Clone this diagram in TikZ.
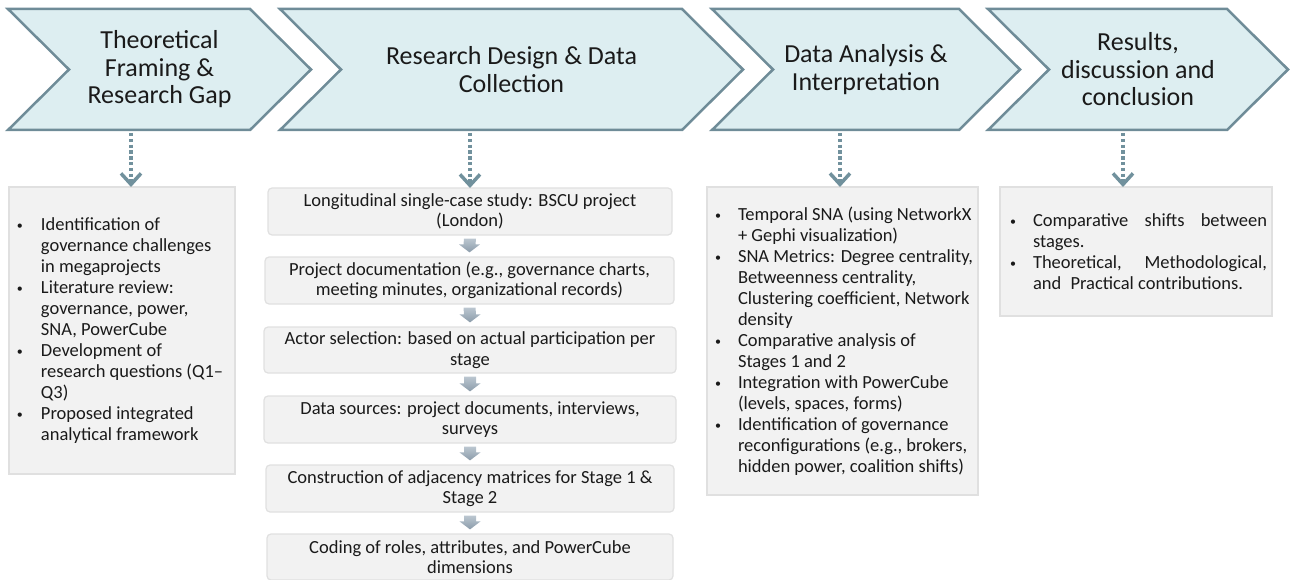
\documentclass[tikz,border=0pt]{standalone}
\usepackage{fontspec}
\setmainfont{Carlito}
\usetikzlibrary{arrows.meta,calc}

\definecolor{chevFill}{HTML}{DDEEF1}
\definecolor{chevLine}{HTML}{6F8C98}
\definecolor{connCol}{HTML}{71919D}
\definecolor{boxFill}{HTML}{F2F2F2}
\definecolor{boxLine}{HTML}{E0E0E0}
\definecolor{arrTop}{HTML}{BBC6D0}
\definecolor{arrBot}{HTML}{8B9CAA}
\definecolor{ink}{HTML}{1A1A1A}

% chevron outline built on an invisible bounding node
\newcommand\chevronpath[1]{%
  \draw[chev] (#1.north west) -- ($(#1.north east)+(-61,0)$) -- (#1.east)
    -- ($(#1.south east)+(-61,0)$) -- (#1.south west) -- ($(#1.west)+(61,0)$) -- cycle;}

% shaded block arrow between two stacked boxes
\newcommand\colarrow[2]{%
  \shade[top color=arrTop,bottom color=arrBot]
    ($(#1.south)+(-6,3)$) -- ($(#1.south)+(6,3)$) -- ($(#2.north)+(6,-12)$)
    -- ($(#2.north)+(10.5,-12)$) -- ($(#2.north)+(0,-4)$) -- ($(#2.north)+(-10.5,-12)$)
    -- ($(#2.north)+(-6,-12)$) -- cycle;}

% bullet-list lines of fixed width
\newcommand\linew{226pt}
\newcommand\bpad{8pt}
\newcommand\bind{24pt}
\newcommand\smallbullet{\raisebox{1.2pt}{\fontsize{12}{12}\selectfont\textbullet}}
\newcommand\bl[1]{\hbox to \linew{\hspace*{\bpad}\hbox to \bind{\smallbullet\hfil}#1\hfil}}
\newcommand\cl[1]{\hbox to \linew{\hspace*{\bpad}\hspace*{\bind}#1\hfil}}
\newcommand\jb[1]{\hbox to \linew{\hspace*{\bpad}\hbox to \bind{\smallbullet\hfil}#1\hspace*{5pt}}}

\begin{document}
\begin{tikzpicture}[x=1pt,y=-1pt,
  chevbb/.style={inner sep=0pt,outer sep=0pt,minimum height=121pt},
  chev/.style={draw=chevLine,fill=chevFill,line width=2.5pt,line join=miter},
  chevtext/.style={align=center,text=ink,inner sep=0pt,font=\fontsize{26}{27.5}\selectfont},
  colbox/.style={draw=boxLine,fill=boxFill,line width=1.2pt,rounded corners=4pt,
    inner sep=0pt,align=center,text=ink,font=\fontsize{18.5}{20.5}\selectfont},
  bulbox/.style={draw=boxLine,fill=boxFill,line width=1.2pt,inner sep=0pt,
    text=ink,font=\fontsize{18.5}{21}\selectfont},
  conn/.style={draw=connCol,line width=4pt,dash pattern=on 3.5pt off 2.3pt,
    shorten <=3pt,-{Straight Barb[length=11pt,width=20pt,line width=3.5pt]}}]

\useasboundingbox (0,0) rectangle (1290,580);

% ---- stage chevrons ----
\node[chevbb,minimum width=303pt] (c1) at (159.5,69.5) {};
\chevronpath{c1}
\node[chevtext] (c1t) at (c1) {Theoretical\\Framing \&\\Research Gap};

\node[chevbb,minimum width=463pt] (c2) at (511.5,69.5) {};
\chevronpath{c2}
\node[chevtext] (c2t) at (c2) {Research Design \& Data\\Collection};

\node[chevbb,minimum width=308pt] (c3) at (866,69.5) {};
\chevronpath{c3}
\node[chevtext] (c3t) at (c3) {Data Analysis \&\\Interpretation};

\node[chevbb,minimum width=300pt] (c4) at (1138,69.5) {};
\chevronpath{c4}
\node[chevtext] (c4t) at (c4) {Results,\\discussion and\\conclusion};

% ---- stage 1 content ----
\node[bulbox,minimum width=226pt,minimum height=287pt] (b1) at (122,330.5) {\vbox{%
  \bl{Identification of}\cl{governance challenges}\cl{in megaprojects}%
  \bl{Literature review:}\cl{governance, power,}\cl{SNA, PowerCube}%
  \bl{Development of}\cl{research questions (Q1–}\cl{Q3)}%
  \bl{Proposed integrated}\cl{analytical framework}}};

% ---- stage 2 content: sequence of steps ----
\node[colbox,minimum width=404pt,minimum height=47pt] (s1) at (470,211.5)
  {Longitudinal single-case study: BSCU project\\(London)};
\node[colbox,minimum width=409pt,minimum height=47pt] (s2) at (469.5,280.5)
  {Project documentation (e.g., governance charts,\\meeting minutes, organizational records)};
\node[colbox,minimum width=412pt,minimum height=46pt] (s3) at (470,350)
  {Actor selection: based on actual participation per\\stage};
\node[colbox,minimum width=412pt,minimum height=47pt] (s4) at (470,419.5)
  {Data sources: project documents, interviews,\\surveys};
\node[colbox,minimum width=408pt,minimum height=47pt] (s5) at (470,488.5)
  {Construction of adjacency matrices for Stage 1 \&\\Stage 2};
\node[colbox,minimum width=406pt,minimum height=46pt] (s6) at (470,557)
  {Coding of roles, attributes, and PowerCube\\dimensions};

\colarrow{s1}{s2}
\colarrow{s2}{s3}
\colarrow{s3}{s4}
\colarrow{s4}{s5}
\colarrow{s5}{s6}

% ---- stage 3 content ----
\node[bulbox,minimum width=271pt,minimum height=308pt] (b3) at (842.5,341) {\vbox{%
  \renewcommand\linew{271pt}\renewcommand\bind{23pt}%
  \bl{Temporal SNA (using NetworkX}\cl{+ Gephi visualization)}%
  \bl{SNA Metrics: Degree centrality,}\cl{Betweenness centrality,}%
  \cl{Clustering coefficient, Network}\cl{density}%
  \bl{Comparative analysis of}\cl{Stages 1 and 2}%
  \bl{Integration with PowerCube}\cl{(levels, spaces, forms)}%
  \bl{Identification of governance}\cl{reconfigurations (e.g., brokers,}%
  \cl{hidden power, coalition shifts)}}};

% ---- stage 4 content ----
\node[bulbox,minimum width=272pt,minimum height=129pt] (b4) at (1136,251.5) {\vbox{%
  \renewcommand\linew{272pt}\renewcommand\bpad{10pt}\renewcommand\bind{23pt}%
  \jb{Comparative\hfill shifts\hfill between}\cl{stages.}%
  \jb{Theoretical,\hfill Methodological,}\cl{and\enspace Practical contributions.}}};

% ---- dotted links from stages to their content ----
\coordinate (t1) at (131,187);
\coordinate (t2) at (470,188);
\coordinate (t3) at (840,187);
\coordinate (t4) at (1123,187);
\draw[conn] (c1.south -| t1) -- (t1);
\draw[conn] (c2.south -| t2) -- (t2);
\draw[conn] (c3.south -| t3) -- (t3);
\draw[conn] (c4.south -| t4) -- (t4);

\end{tikzpicture}
\end{document}
